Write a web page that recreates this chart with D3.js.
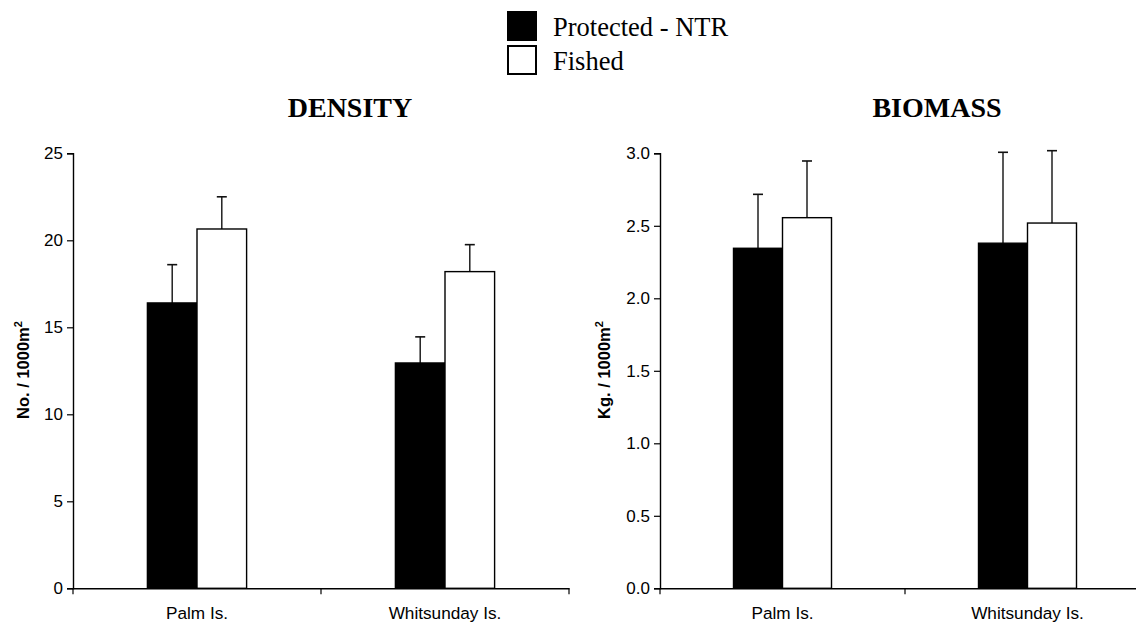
<!DOCTYPE html>
<html><head><meta charset="utf-8">
<script src="https://cdn.jsdelivr.net/npm/d3@7"></script>
<style>
body{margin:0;background:#fff;}
svg{display:block;}
</style></head>
<body>
<svg id="c" width="1136" height="622"></svg>
<script>
const categories = ["Palm Is.", "Whitsunday Is."];
const seriesNames = ["Protected - NTR", "Fished"];
const densityProtected = [16.4, 12.95];
const densityProtectedErr = [2.2, 1.5];
const densityFished = [20.65, 18.2];
const densityFishedErr = [1.85, 1.55];
const biomassProtected = [2.345, 2.38];
const biomassProtectedErr = [0.372, 0.627];
const biomassFished = [2.556, 2.519];
const biomassFishedErr = [0.391, 0.499];
const densityTicks = [0, 5, 10, 15, 20, 25];
const biomassTicks = [0, 0.5, 1.0, 1.5, 2.0, 2.5, 3.0];

const svg = d3.select("#c");
const fills = ["#000", "#fff"];

function panel(opts) {
  const g = svg.append("g");
  const x = d3.scaleBand().domain(categories).range([opts.x0, opts.x1]).paddingInner(0).paddingOuter(0);
  const y = d3.scaleLinear().domain([0, opts.max]).range([588.3, 153.3]);
  const bw = x.bandwidth();
  const x1 = d3.scaleBand().domain(seriesNames).range([-bw * 0.2, bw * 0.2]).padding(0);
  const rows = [];
  categories.forEach((c, i) => {
    seriesNames.forEach((s, j) => {
      rows.push({c, s, j, v: opts.vals[j][i], e: opts.errs[j][i]});
    });
  });
  rows.forEach(d => {
    const cx = x(d.c) + bw / 2 + x1(d.s) + x1.bandwidth() / 2;
    g.append("line").attr("x1", cx).attr("x2", cx).attr("y1", y(d.v)).attr("y2", y(d.v + d.e))
      .attr("stroke", "#111").attr("stroke-width", 1.4);
    g.append("line").attr("x1", cx - 5).attr("x2", cx + 5).attr("y1", y(d.v + d.e)).attr("y2", y(d.v + d.e))
      .attr("stroke", "#111").attr("stroke-width", 1.6);
  });
  g.selectAll("rect.bar").data(rows).enter().append("rect")
    .attr("class", "bar")
    .attr("x", d => x(d.c) + bw / 2 + x1(d.s))
    .attr("width", x1.bandwidth())
    .attr("y", d => y(d.v))
    .attr("height", d => y(0) - y(d.v))
    .attr("fill", d => fills[d.j])
    .attr("stroke", "#000").attr("stroke-width", 1.4);

  const ya = d3.axisLeft(y).tickValues(opts.ticks).tickSize(6).tickPadding(4)
    .tickFormat(opts.fmt);
  const yg = g.append("g").attr("transform", `translate(${opts.x0},0)`).call(ya);
  yg.select(".domain").attr("stroke", "#000").attr("stroke-width", 1.4);
  yg.selectAll(".tick line").attr("stroke", "#000").attr("stroke-width", 1.2);
  yg.selectAll("text").attr("font-family", "Liberation Sans, Arial, sans-serif").attr("font-size", 17).attr("fill", "#000");

  const xa = d3.axisBottom(x).tickSize(0).tickPadding(0).tickFormat("");
  const xg = g.append("g").attr("transform", `translate(0,${y(0)})`).call(xa);
  xg.select(".domain").attr("stroke", "#000").attr("stroke-width", 1.4);
  const boundaries = [opts.x0, x(categories[1]), opts.x1];
  boundaries.forEach(b => {
    xg.append("line").attr("x1", b).attr("x2", b).attr("y1", 0).attr("y2", 6)
      .attr("stroke", "#000").attr("stroke-width", 1.2);
  });
  categories.forEach(c => {
    g.append("text").attr("x", x(c) + bw / 2).attr("y", 619)
      .attr("text-anchor", "middle")
      .attr("font-family", "Liberation Sans, Arial, sans-serif").attr("font-size", 17.2)
      .text(c);
  });

  const yl = g.append("text").attr("transform", `translate(${opts.labelX},370) rotate(-90)`)
    .attr("text-anchor", "middle")
    .attr("font-family", "Liberation Sans, Arial, sans-serif").attr("font-size", 16.5).attr("font-weight", "bold");
  yl.append("tspan").text(opts.label);
  yl.append("tspan").attr("font-size", 11).attr("dy", -7).text("2");

  g.append("text").attr("x", opts.titleX).attr("y", 117).attr("text-anchor", "middle")
    .attr("font-family", "Liberation Serif, Times New Roman, serif").attr("font-size", 28).attr("font-weight", "bold")
    .text(opts.title);
}

panel({x0: 73, x1: 569, max: 25, vals: [densityProtected, densityFished], errs: [densityProtectedErr, densityFishedErr],
  ticks: densityTicks, fmt: d3.format("d"), label: "No. / 1000m", labelX: 29, title: "DENSITY", titleX: 350});
panel({x0: 660, x1: 1150, max: 3, vals: [biomassProtected, biomassFished], errs: [biomassProtectedErr, biomassFishedErr],
  ticks: biomassTicks, fmt: d3.format(".1f"), label: "Kg. / 1000m", labelX: 610, title: "BIOMASS", titleX: 937});

const lg = svg.append("g");
seriesNames.forEach((s, j) => {
  const yy = 12 + j * 34;
  lg.append("rect").attr("x", 508).attr("y", yy).attr("width", 28).attr("height", 28)
    .attr("fill", fills[j]).attr("stroke", "#000").attr("stroke-width", 2);
  lg.append("text").attr("x", 553).attr("y", yy + 24)
    .attr("font-family", "Liberation Serif, Times New Roman, serif").attr("font-size", 26.5)
    .text(s);
});
</script>
</body></html>
